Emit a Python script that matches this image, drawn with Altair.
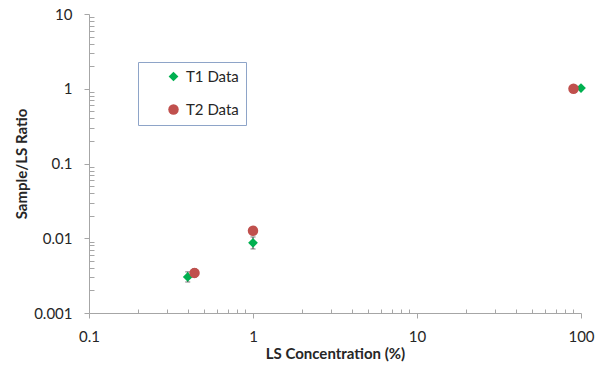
import altair as alt
import pandas as pd

# ---- data ----
series_names = ["T1 Data", "T2 Data"]
t1_x = [0.4, 1.0, 100.0]
t1_y = [0.00304, 0.0087, 1.02]
t1_lo = [0.0026, 0.0072, 0.98]
t1_hi = [0.00355, 0.0104, 1.06]
t2_x = [0.44, 1.0, 90.0]
t2_y = [0.00344, 0.0126, 1.0]
t2_lo = [0.00303, 0.0118, 0.96]
t2_hi = [0.0039, 0.0134, 1.04]

x_major = [0.1, 1, 10, 100]
y_major = [0.001, 0.01, 0.1, 1, 10]
x_minor = [m * d for d in [0.1, 1, 10] for m in range(2, 10)]
y_minor = [m * d for d in [0.001, 0.01, 0.1, 1] for m in range(2, 10)]

rows = []
for name, xs, ys, los, his in [
    (series_names[0], t1_x, t1_y, t1_lo, t1_hi),
    (series_names[1], t2_x, t2_y, t2_lo, t2_hi),
]:
    for x, y, lo, hi in zip(xs, ys, los, his):
        rows.append({"series": name, "x": x, "y": y, "lo": lo, "hi": hi})
df = pd.DataFrame(rows)

FONT = "Lato"
W, H = 492, 299
xscale = alt.Scale(type="log", domain=[0.1, 100], nice=False)
yscale = alt.Scale(type="log", domain=[0.001, 10], nice=False)

axis_common = dict(
    labelFont=FONT, labelFontSize=15, labelColor="#262626", labelFlush=False,
    titleFont=FONT, titleFontSize=15, titleFontWeight="bold", titleColor="#262626",
    domainColor="#A6A6A6", tickColor="#A6A6A6", grid=False, tickSize=5,
)

x_axis = alt.Axis(values=x_major, format="~g", title="LS Concentration (%)",
                  labelPadding=11, titlePadding=2, **axis_common)
y_axis = alt.Axis(values=y_major,
                  labelExpr="datum.value >= 1 ? format(datum.value, 'd') : format(datum.value, '~g')",
                  title="Sample/LS Ratio", labelPadding=12, titlePadding=4, **axis_common)

x_minor_axis = alt.Axis(orient="top", offset=-H, values=x_minor, labels=False, title=None,
                        domain=False, ticks=True, tickSize=4, tickColor="#A6A6A6", grid=False)
y_minor_axis = alt.Axis(orient="right", offset=-W, values=y_minor, labels=False, title=None,
                        domain=False, ticks=True, tickSize=5, tickColor="#A6A6A6", grid=False)

minor = alt.Chart(df).mark_point(opacity=0).encode(
    x=alt.X("x:Q", scale=xscale, axis=x_minor_axis),
    y=alt.Y("y:Q", scale=yscale, axis=y_minor_axis),
)

errbars = alt.Chart(df).mark_errorbar(ticks=True, color="#404040", thickness=1).encode(
    x=alt.X("x:Q", scale=xscale, axis=None),
    y=alt.Y("lo:Q", scale=yscale, axis=None),
    y2="hi:Q",
)

leg = alt.Legend(title=None)
points = alt.Chart(df).mark_point(filled=True, opacity=1, strokeWidth=0).encode(
    x=alt.X("x:Q", scale=xscale, axis=x_axis),
    y=alt.Y("y:Q", scale=yscale, axis=y_axis),
    color=alt.Color("series:N", scale=alt.Scale(domain=series_names, range=["#00B050", "#C0504D"]),
                    legend=leg),
    shape=alt.Shape("series:N", scale=alt.Scale(domain=series_names, range=["diamond", "circle"]),
                    legend=leg),
    size=alt.Size("series:N", scale=alt.Scale(domain=series_names, range=[95, 110]), legend=None),
)

chart = alt.layer(minor, errbars, points).resolve_axis(x="independent", y="independent").properties(
    width=W, height=H,
    autosize=alt.AutoSizeParams(type="none"),
    padding={"left": 89, "top": 14, "right": 22, "bottom": 54},
).configure_view(stroke=None).configure_legend(
    orient="none", legendX=49, legendY=48,
    strokeColor="#8EA4C8", fillColor="white", padding=7,
    labelFont=FONT, labelFontSize=15, labelColor="#262626",
    rowPadding=17, symbolSize=80, labelOffset=5, symbolOffset=21,
)

chart.save("out.html", embed_options={"renderer": "svg", "actions": False})
